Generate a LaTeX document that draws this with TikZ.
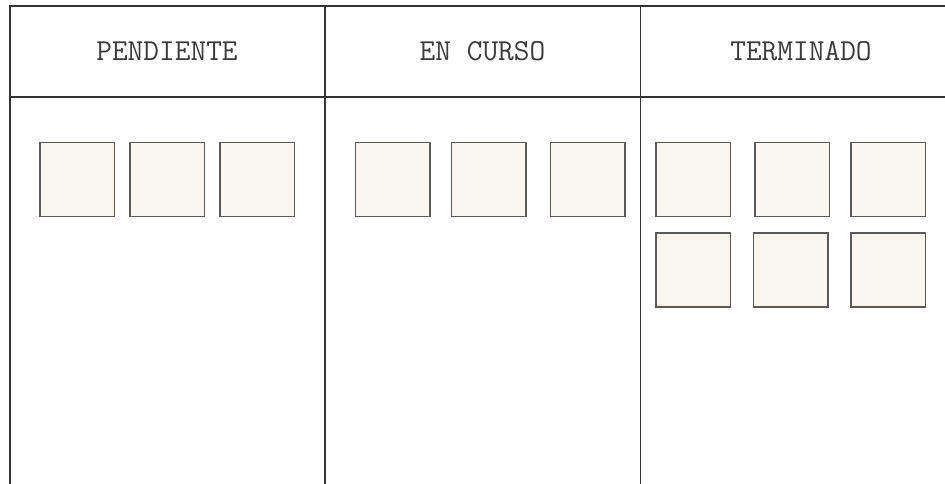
\documentclass[tikz,border=0pt]{standalone}
\usetikzlibrary{positioning}
\definecolor{linecol}{RGB}{51,51,51}
\definecolor{boxfill}{RGB}{248,246,238}
\definecolor{boxline}{RGB}{90,90,90}
\definecolor{textcol}{RGB}{60,60,60}
\tikzset{
  frame/.style={draw=linecol, line width=1.5pt},
  card/.style={draw=boxline, fill=boxfill, line width=1.5pt, minimum width=74.5pt, minimum height=74pt, inner sep=0pt, outer sep=0pt},
  colhead/.style={text=textcol, font=\ttfamily\fontsize{30.5}{35}\selectfont, inner sep=0pt}
}
\begin{document}
\begin{tikzpicture}[x=1pt,y=-1pt]
\useasboundingbox (0,0) rectangle (945,484);
% frame
\draw[frame, line width=2pt] (9.5,484) -- (9.5,6.5) -- (945,6.5);
\draw[frame] (9.5,97) -- (945,97);
\draw[frame] (325,6.5) -- (325,484);
\draw[frame] (640.5,6.5) -- (640.5,484);
% headers
\node[colhead] (h1) at (167,51.5) {PENDIENTE};
\node[colhead] (h2) at (482.5,51.5) {EN CURSO};
\node[colhead] (h3) at (801,51.5) {TERMINADO};
% pendiente
\node[card] (p1) at (77,179.5) {};
\node[card] (p2) at (167.3,179.5) {};
\node[card] (p3) at (257.3,179.5) {};
% en curso
\node[card] (c1) at (392.7,179.5) {};
\node[card] (c2) at (488.8,179.5) {};
\node[card] (c3) at (587.8,179.5) {};
% terminado
\node[card] (t1) at (693,179.5) {};
\node[card] (t2) at (792.3,179.5) {};
\node[card] (t3) at (888.3,179.5) {};
\node[card] (t4) at (693,270) {};
\node[card] (t5) at (790.8,270) {};
\node[card] (t6) at (888.3,270) {};
\end{tikzpicture}
\end{document}
